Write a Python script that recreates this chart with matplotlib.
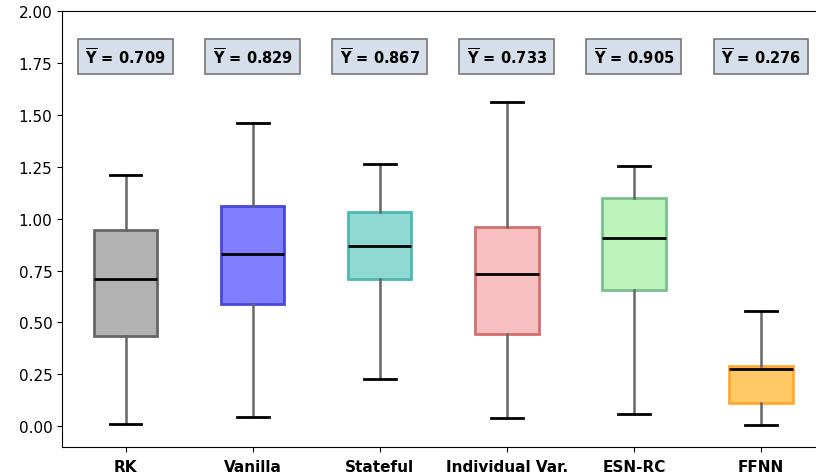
import matplotlib
matplotlib.use("Agg")
import matplotlib.pyplot as plt

categories = ["RK", "Vanilla", "Stateful", "Individual Var.", "ESN-RC", "FFNN"]
whisker_low = [0.010, 0.043, 0.227, 0.039, 0.058, 0.005]
q1 = [0.434, 0.588, 0.708, 0.443, 0.655, 0.111]
medians = [0.709, 0.829, 0.867, 0.733, 0.905, 0.276]
q3 = [0.945, 1.062, 1.031, 0.959, 1.099, 0.290]
whisker_high = [1.210, 1.460, 1.263, 1.563, 1.253, 0.554]
mean_labels = ["0.709", "0.829", "0.867", "0.733", "0.905", "0.276"]
colors = ["gray", "blue", "lightseagreen", "lightcoral", "lightgreen", "orange"]
alphas = [0.6, 0.5, 0.5, 0.5, 0.6, 0.6]
edge_colors = ["#666666", "#4848d8", "#4fb8b0", "#d07070", "#79c08f", "#ffaa33"]

fig = plt.figure(figsize=(8.16, 4.77), dpi=100)
ax = fig.add_axes([62/816, 29/477, (824.5-62)/816, (448-12)/477])

stats = []
for i, c in enumerate(categories):
    stats.append(dict(label=c, whislo=whisker_low[i], q1=q1[i], med=medians[i],
                      q3=q3[i], whishi=whisker_high[i], fliers=[]))

bp = ax.bxp(stats, positions=range(1, len(categories)+1), widths=0.5,
            patch_artist=True, showfliers=False,
            medianprops=dict(color="black", linewidth=2),
            whiskerprops=dict(color="#666666", linewidth=1.8),
            capprops=dict(color="black", linewidth=2))
for patch, col, a, ec in zip(bp["boxes"], colors, alphas, edge_colors):
    patch.set_facecolor(matplotlib.colors.to_rgba(col, a))
    patch.set_edgecolor(ec)
    patch.set_linewidth(2)

for i, lab in enumerate(mean_labels):
    ax.text(i+1, 1.78, r"$\overline{\mathbf{Y}}$" + " = " + lab, ha="center", va="center",
            fontsize=10.5, fontweight="bold",
            bbox=dict(boxstyle="square,pad=0.5", facecolor="#d5dee9", edgecolor="#777777", linewidth=1.2))

ax.set_xlim(0.5, 6.5)
ax.set_ylim(-0.1, 2.0)
ax.set_yticks([0.0, 0.25, 0.5, 0.75, 1.0, 1.25, 1.5, 1.75, 2.0])
ax.set_yticklabels(["0.00", "0.25", "0.50", "0.75", "1.00", "1.25", "1.50", "1.75", "2.00"])
ax.set_xticks(range(1, len(categories)+1))
ax.set_xticklabels(categories, fontweight="bold", fontsize=11)
ax.tick_params(axis="y", labelsize=11)
ax.tick_params(axis="x", pad=5)

fig.savefig("out.png", dpi=100)
